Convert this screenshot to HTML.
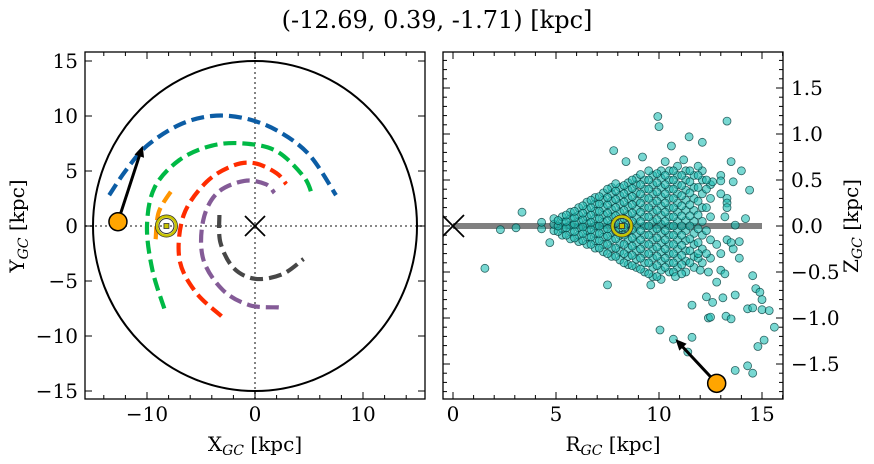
<!DOCTYPE html>
<html><head><meta charset="utf-8"><style>
body{margin:0;background:#fff}
svg{display:block;font-family:"DejaVu Serif","Liberation Serif",serif}
</style></head><body>
<svg id="c" width="874" height="464" viewBox="0 0 874 464"></svg>
<script>
// ---- data ----
const titleText = "(-12.69, 0.39, -1.71) [kpc]";
const leftXTicks = [-10, 0, 10];
const leftYTicks = [-15, -10, -5, 0, 5, 10, 15];
const rightXTicks = [0, 5, 10, 15];
const rightYTicks = [-1.5, -1.0, -0.5, 0.0, 0.5, 1.0, 1.5];
const circleRadius = 15;
const arcBlue = [[-13.5,2.8],[-12,5],[-10,7.3],[-7,9.2],[-4,10],[-1,9.8],[2,8.7],[5,6.5],[7.5,2.8]];
const arcGreen = [[-8.4,-7.5],[-9.5,-4],[-10,0],[-9.3,3.5],[-7,6],[-4,7.3],[-1,7.5],[2,6.8],[4.5,4.5],[5.3,2.8]];
const arcOrange = [[-9.2,-1.2],[-8.9,1.3],[-7.6,3.4]];
const arcRed = [[-3.1,-8.2],[-5.5,-6],[-7,-3],[-6.6,1],[-4.5,4],[-2,5.5],[0,5.7],[2,4.8],[2.9,3.8]];
const arcPurple = [[2.2,-7.4],[-0.5,-7.2],[-3,-5.8],[-4.8,-3],[-4.8,0.5],[-3.5,3],[-1,4.1],[1,3.8],[1.8,3]];
const arcGray = [[-3.3,1],[-3.2,-1.5],[-2,-3.8],[0,-4.8],[2.5,-4.4],[4.5,-3]];
const objXY = [-12.69, 0.39];
const arrowXY = [-10.4, 7.3];
const sunXY = [-8.2, 0];
const objRZ = [12.8, -1.71];
const arrowRZ = [10.8, -1.23];
const sunRZ = [8.2, 0];
const coreCols = [4.9,5.3,5.7,6.1,6.5,6.9,7.3,7.7,8.1,8.5,8.9,9.3,9.7,10.1,10.5,10.9,11.3,11.7,12.1,12.5,13.0];
const coreZ = [
 [-0.05,0.02,0.08],
 [-0.1,-0.03,0.04,0.1],
 [-0.14,-0.06,0.01,0.08,0.15],
 [-0.17,-0.1,-0.02,0.05,0.12,0.2],
 [-0.2,-0.12,-0.05,0.03,0.1,0.18,0.26],
 [-0.24,-0.16,-0.08,0,0.08,0.16,0.24,0.31],
 [-0.28,-0.2,-0.12,-0.04,0.04,0.12,0.2,0.28,0.36],
 [-0.33,-0.24,-0.15,-0.07,0.02,0.1,0.18,0.27,0.35,0.42],
 [-0.37,-0.28,-0.19,-0.1,-0.02,0.07,0.15,0.24,0.33,0.42],
 [-0.42,-0.33,-0.24,-0.15,-0.06,0.03,0.12,0.21,0.3,0.39,0.47],
 [-0.45,-0.36,-0.27,-0.18,-0.09,0,0.09,0.18,0.27,0.36,0.45,0.52],
 [-0.5,-0.4,-0.3,-0.2,-0.1,0,0.1,0.2,0.3,0.4,0.5],
 [-0.55,-0.45,-0.35,-0.25,-0.15,-0.05,0.05,0.15,0.25,0.35,0.45,0.55],
 [-0.58,-0.48,-0.38,-0.28,-0.18,-0.08,0.02,0.12,0.22,0.32,0.42,0.52,0.6],
 [-0.5,-0.4,-0.3,-0.2,-0.1,0,0.1,0.2,0.3,0.4,0.5,0.6],
 [-0.45,-0.35,-0.25,-0.15,-0.05,0.05,0.15,0.25,0.35,0.45,0.55,0.65],
 [-0.5,-0.38,-0.27,-0.16,-0.05,0.06,0.17,0.28,0.39,0.5,0.6],
 [-0.45,-0.33,-0.2,-0.08,0.05,0.17,0.3,0.42,0.55],
 [-0.4,-0.25,-0.1,0.05,0.2,0.35,0.5,0.6],
 [-0.35,-0.15,0.1,0.3,0.45],
 [-0.3,0.35,0.55]
];
const coreCols2 = [4.3,5.1,5.5,5.9,6.3,6.7,7.1,7.5,7.9,8.3,8.7,9.1,9.5,9.9,10.3,10.7,11.1,11.5,11.9,12.3];
const coreZ2 = [
 [-0.03,0.04],
 [-0.06,0.0,0.06],
 [-0.1,-0.02,0.05,0.12],
 [-0.13,-0.06,0.02,0.09,0.16],
 [-0.16,-0.08,-0.01,0.07,0.14,0.22],
 [-0.2,-0.12,-0.04,0.04,0.12,0.2,0.28],
 [-0.24,-0.16,-0.08,0.0,0.08,0.16,0.24,0.32],
 [-0.3,-0.2,-0.11,-0.03,0.06,0.14,0.23,0.31,0.4],
 [-0.33,-0.24,-0.14,-0.06,0.03,0.11,0.2,0.29,0.38,0.46],
 [-0.4,-0.3,-0.2,-0.1,-0.01,0.08,0.17,0.26,0.35,0.44],
 [-0.43,-0.32,-0.22,-0.13,-0.04,0.05,0.14,0.23,0.32,0.41,0.5],
 [-0.47,-0.35,-0.25,-0.15,-0.05,0.05,0.15,0.25,0.35,0.45,0.56],
 [-0.52,-0.4,-0.3,-0.2,-0.1,0.0,0.1,0.2,0.3,0.4,0.5,0.6],
 [-0.55,-0.43,-0.33,-0.23,-0.13,-0.03,0.07,0.17,0.27,0.37,0.47,0.57],
 [-0.45,-0.35,-0.25,-0.15,-0.05,0.05,0.15,0.25,0.35,0.45,0.55],
 [-0.5,-0.4,-0.3,-0.2,-0.1,0.0,0.1,0.2,0.3,0.4,0.5,0.6],
 [-0.42,-0.32,-0.21,-0.1,0.0,0.11,0.22,0.33,0.44,0.55],
 [-0.4,-0.27,-0.14,0.0,0.11,0.23,0.36,0.48,0.6],
 [-0.35,-0.18,-0.03,0.12,0.27,0.42,0.55],
 [-0.3,-0.05,0.2,0.4]
];
const outliers = [[9.94,1.19],[10.0,1.08],[13.3,1.14],[11.46,0.97],[12.1,0.91],[7.8,0.82],[10.6,0.87],[9.2,0.75],[8.4,0.70],[13.5,0.70],[14.0,0.60],[14.4,0.39],[14.2,0.08],[13.7,0.01],[1.55,-0.46],[2.3,-0.04],[3.06,-0.02],[3.35,0.15],[4.7,-0.18],[7.5,-0.64],[9.6,-0.64],[11.6,-0.86],[12.3,-0.77],[12.6,-0.83],[12.8,-0.61],[13.1,-0.78],[13.7,-0.75],[14.55,-0.54],[14.7,-0.68],[14.9,-0.72],[15.0,-0.8],[14.3,-0.9],[14.55,-0.89],[15.0,-0.91],[15.35,-0.92],[12.4,-1.0],[12.5,-0.99],[13.25,-0.98],[13.5,-1.01],[15.6,-1.1],[10.05,-1.13],[10.7,-1.23],[11.6,-1.21],[15.1,-1.24],[14.8,-1.31],[13.7,-1.57],[14.3,-1.52],[14.55,-1.6],[11.4,-1.37],[12.6,0.48],[13.0,0.49],[13.6,0.48],[12.3,0.5],[13.3,0.3],[13.3,0.25],[13.3,0.2],[13.2,0.1],[13.3,-0.15],[13.5,-0.18],[13.9,-0.17],[13.6,-0.25],[13.9,-0.35],[12.0,-0.48],[12.4,-0.5],[13.0,-0.48],[13.2,-0.52],[10.8,-0.55],[11.1,-0.52],[11.9,-0.3],[12.8,-0.2],[11.2,0.72],[11.9,0.65],[10.3,0.7]];

// ---- helpers ----
const NS="http://www.w3.org/2000/svg", svg=document.getElementById('c');
function mk(tag,attrs,parent){const e=document.createElementNS(NS,tag);for(const k in attrs)e.setAttribute(k,attrs[k]);(parent||svg).appendChild(e);return e;}
const LX=x=>255+x*10.8, LY=y=>226-y*11;
const RX=r=>453+r*20.6, RY=z=>226-z*92;
const fmt=v=>(v<0?'\u2212':'')+Math.abs(v);
const fmt1=v=>(v<0?'\u2212':'')+Math.abs(v).toFixed(1);
function smooth(P){let d='M'+P[0][0].toFixed(1)+' '+P[0][1].toFixed(1);
  for(let i=0;i<P.length-1;i++){const p0=P[i-1]||P[i],p1=P[i],p2=P[i+1],p3=P[i+2]||p2;
    const c1=[p1[0]+(p2[0]-p0[0])/6,p1[1]+(p2[1]-p0[1])/6],c2=[p2[0]-(p3[0]-p1[0])/6,p2[1]-(p3[1]-p1[1])/6];
    d+=` C${c1[0].toFixed(1)} ${c1[1].toFixed(1)} ${c2[0].toFixed(1)} ${c2[1].toFixed(1)} ${p2[0].toFixed(1)} ${p2[1].toFixed(1)}`;}
  return d;}

let t=mk('text',{x:437,y:28,'text-anchor':'middle','font-size':24});t.textContent=titleText;



// ===== Left panel =====
const gL=mk('g',{});


const clipL=mk('clipPath',{id:'cl'});mk('rect',{x:85,y:52,width:340,height:347},clipL);
const pL=mk('g',{'clip-path':'url(#cl)'},gL);
let e=mk('line',{x1:85,x2:425,y1:LY(0),y2:LY(0),stroke:'#777','stroke-width':1.8,'stroke-dasharray':'2 3'},pL);


e=mk('line',{x1:LX(0),x2:LX(0),y1:52,y2:399,stroke:'#777','stroke-width':1.8,'stroke-dasharray':'2 3'},pL);


e=mk('ellipse',{cx:LX(0),cy:LY(0),rx:circleRadius*10.8,ry:circleRadius*11,fill:'none',stroke:'#000','stroke-width':2},pL);


const arcs=[[arcBlue,'#0C5DA5','arc-blue'],[arcGreen,'#00B945','arc-green'],[arcOrange,'#FF9500','arc-orange'],[arcRed,'#FF2C00','arc-red'],[arcPurple,'#845B97','arc-purple'],[arcGray,'#474747','arc-gray']];
arcs.forEach(a=>{
  const d=smooth(a[0].map(p=>[LX(p[0]),LY(p[1])]));
  const el=mk('path',{d:d,fill:'none',stroke:a[1],'stroke-width':4.2,'stroke-dasharray':'13 6'},pL);
  
  
});
function xmark(g,cx,cy,s,name){const gg=mk('g',{stroke:'#000','stroke-width':1.8},g);mk('line',{x1:cx-s,y1:cy-s,x2:cx+s,y2:cy+s},gg);mk('line',{x1:cx-s,y1:cy+s,x2:cx+s,y2:cy-s},gg);
  
  }
function sun(g,cx,cy){const gg=mk('g',{},g);mk('circle',{cx:cx,cy:cy,r:11,fill:'none',stroke:'#333','stroke-width':1},gg);mk('circle',{cx:cx,cy:cy,r:9.5,fill:'none',stroke:'#c9c400','stroke-width':2.5},gg);mk('circle',{cx:cx,cy:cy,r:7.5,fill:'none',stroke:'#333','stroke-width':1},gg);mk('rect',{x:cx-2.5,y:cy-2.5,width:5,height:5,fill:'#c9c400',stroke:'#333','stroke-width':0.8},gg);
  
  }
function arrow(g,x1,y1,x2,y2,name){const gg=mk('g',{},g);const ang=Math.atan2(y2-y1,x2-x1),L=11,W=5;
  mk('line',{x1:x1,y1:y1,x2:x2-Math.cos(ang)*L*0.8,y2:y2-Math.sin(ang)*L*0.8,stroke:'#000','stroke-width':3},gg);
  const bx=x2-Math.cos(ang)*L,by=y2-Math.sin(ang)*L;
  mk('polygon',{points:`${x2},${y2} ${bx-Math.sin(ang)*W},${by+Math.cos(ang)*W} ${bx+Math.sin(ang)*W},${by-Math.cos(ang)*W}`,fill:'#000'},gg);
  
  }
xmark(pL,LX(0),LY(0),10,'galactic-center-marker');
sun(pL,LX(sunXY[0]),LY(sunXY[1]));
arrow(pL,LX(objXY[0]),LY(objXY[1]),LX(arrowXY[0]),LY(arrowXY[1]),'velocity-arrow-xy');
e=mk('circle',{cx:LX(objXY[0]),cy:LY(objXY[1]),r:9,fill:'#FFA500',stroke:'#000','stroke-width':1.5},pL);


mk('rect',{x:85,y:52,width:340,height:347,fill:'none',stroke:'#000','stroke-width':1.3},gL);
for(let v=-14;v<=14;v+=2){const x=LX(v),maj=v%10===0,l=maj?7:4;mk('line',{x1:x,x2:x,y1:399,y2:399-l,stroke:'#000'},gL);mk('line',{x1:x,x2:x,y1:52,y2:52+l,stroke:'#000'},gL);}
for(let v=-15;v<=15;v+=5){const y=LY(v),l=7;mk('line',{x1:85,x2:85+l,y1:y,y2:y,stroke:'#000'},gL);mk('line',{x1:425,x2:425-l,y1:y,y2:y,stroke:'#000'},gL);}
leftXTicks.forEach(v=>{const el=mk('text',{x:LX(v),y:421,'text-anchor':'middle','font-size':20},gL);el.textContent=fmt(v);
  
  });
leftYTicks.forEach(v=>{const el=mk('text',{x:78,y:LY(v)+7,'text-anchor':'end','font-size':20},gL);el.textContent=fmt(v);
  
  });
e=mk('text',{x:255,y:451,'text-anchor':'middle','font-size':20},gL);e.innerHTML='X<tspan font-size="14" dy="4" font-style="italic">GC</tspan><tspan dy="-4"> [kpc]</tspan>';


e=mk('text',{x:0,y:0,'text-anchor':'middle','font-size':20,transform:'translate(24,226) rotate(-90)'},gL);e.innerHTML='Y<tspan font-size="14" dy="4" font-style="italic">GC</tspan><tspan dy="-4"> [kpc]</tspan>';



// ===== Right panel =====
const gR=mk('g',{});


const clipR=mk('clipPath',{id:'cr'});mk('rect',{x:443,y:52,width:340,height:347},clipR);
const pR=mk('g',{'clip-path':'url(#cr)'},gR);
e=mk('line',{x1:RX(0),x2:RX(15),y1:RY(0),y2:RY(0),stroke:'#808080','stroke-width':6},pR);


const sc=mk('g',{},pR);


const pts=[];
coreCols.forEach((r,i)=>coreZ[i].forEach(z=>pts.push([r,z])));
coreCols2.forEach((r,i)=>coreZ2[i].forEach(z=>pts.push([r,z])));
outliers.forEach(p=>pts.push(p));
pts.forEach(p=>{const c=mk('circle',{cx:RX(p[0]).toFixed(1),cy:RY(p[1]).toFixed(1),r:4,fill:'rgba(30,190,180,0.6)',stroke:'rgba(0,55,55,0.75)','stroke-width':0.8},sc);
  
  });
xmark(pR,RX(0),RY(0),11,'galactic-center-marker-rz');
sun(pR,RX(sunRZ[0]),RY(sunRZ[1]));
arrow(pR,RX(objRZ[0]),RY(objRZ[1]),RX(arrowRZ[0]),RY(arrowRZ[1]),'velocity-arrow-rz');
e=mk('circle',{cx:RX(objRZ[0]),cy:RY(objRZ[1]),r:9,fill:'#FFA500',stroke:'#000','stroke-width':1.5},pR);


mk('rect',{x:443,y:52,width:340,height:347,fill:'none',stroke:'#000','stroke-width':1.3},gR);
for(let v=0;v<=16;v++){const x=RX(v),maj=v%5===0,l=maj?7:4;mk('line',{x1:x,x2:x,y1:399,y2:399-l,stroke:'#000'},gR);mk('line',{x1:x,x2:x,y1:52,y2:52+l,stroke:'#000'},gR);}
for(let k=-18;k<=18;k++){const v=k/10,y=RY(v),maj=k%5===0,l=maj?7:4;mk('line',{x1:443,x2:443+l,y1:y,y2:y,stroke:'#000'},gR);mk('line',{x1:783,x2:783-l,y1:y,y2:y,stroke:'#000'},gR);}
rightXTicks.forEach(v=>{const el=mk('text',{x:RX(v),y:421,'text-anchor':'middle','font-size':20},gR);el.textContent=fmt(v);
  
  });
rightYTicks.forEach(v=>{const el=mk('text',{x:791,y:RY(v)+7,'text-anchor':'start','font-size':20},gR);el.textContent=fmt1(v);
  
  });
e=mk('text',{x:613,y:451,'text-anchor':'middle','font-size':20},gR);e.innerHTML='R<tspan font-size="14" dy="4" font-style="italic">GC</tspan><tspan dy="-4"> [kpc]</tspan>';


e=mk('text',{x:0,y:0,'text-anchor':'middle','font-size':20,transform:'translate(858,226) rotate(-90)'},gR);e.innerHTML='Z<tspan font-size="14" dy="4" font-style="italic">GC</tspan><tspan dy="-4"> [kpc]</tspan>';


</script>
</body></html>
